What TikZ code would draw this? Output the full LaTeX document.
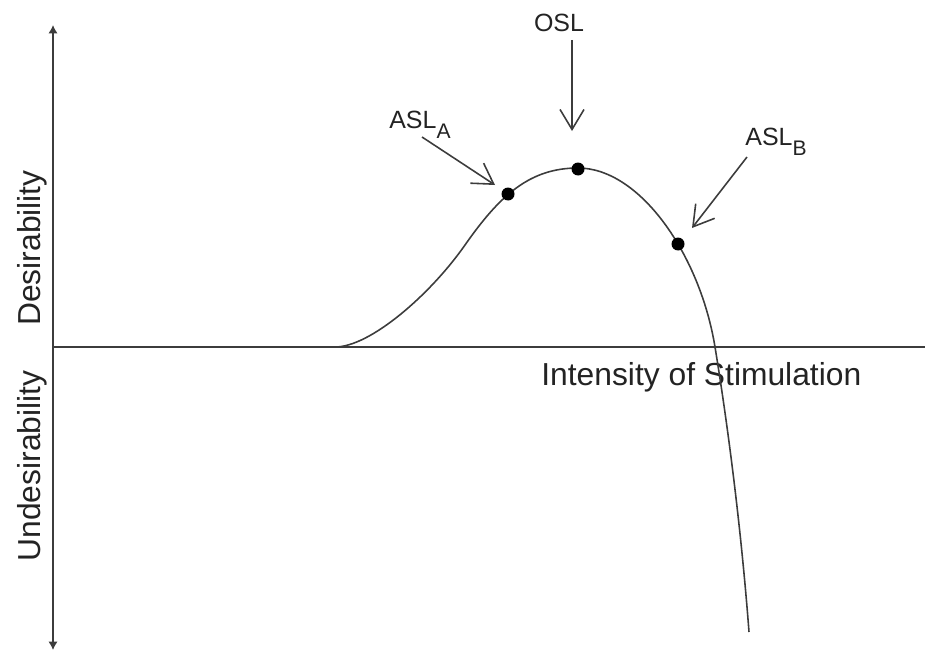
\documentclass[tikz,border=0pt]{standalone}
\usepackage{fontspec}
\setmainfont{Liberation Sans}
\usepackage{tikz}
\usetikzlibrary{arrows.meta, positioning}
\definecolor{encre}{RGB}{35,35,35}
\definecolor{grisfonce}{RGB}{60,60,60}
\newcommand{\lowsub}[1]{\raisebox{-6pt}{\fontsize{12}{14}\selectfont #1}}

\begin{document}
\begin{tikzpicture}[x=0.02cm, y=-0.02cm,
	trait/.style={draw=grisfonce, line width=0.9pt},
	axelabel/.style={text=encre, inner sep=0pt, font=\fontsize{18.1}{21}\selectfont},
	marque/.style={text=encre, inner sep=0pt, font=\fontsize{14.2}{17}\selectfont},
	point/.style={circle, fill=black, inner sep=0pt, minimum size=0.26cm},
	fleche/.style={trait, -{Straight Barb[length=0.4cm, width=0.48cm]}}]
				\useasboundingbox (0,0) rectangle (925,652);
				
				% axes
				\coordinate (haut) at (53,25);
				\coordinate (bas) at (53,650);
				\coordinate (gauche) at (53,347);
				\coordinate (droite) at (925,347);
				\draw[trait, {Latex[length=0.17cm, width=0.19cm]}-{Latex[length=0.17cm, width=0.19cm]}] (bas) -- (haut);
				\draw[trait] (gauche) -- (droite);
				
				\node[axelabel, rotate=90, anchor=base] (desir) at (40,248) {Desirability};
				\node[axelabel, rotate=90, anchor=base] (indesir) at (40,466) {Undesirability};
				\node[axelabel, anchor=base west] (intensite) at (541,385) {Intensity of Stimulation};
				
				% courbe
				\draw[trait] (335,347) .. controls (370,347) and (430,295) .. (465,245)
				.. controls (500,195) and (530,168) .. (578,168)
				.. controls (640,168) and (700,255) .. (715,347)
				.. controls (730,439) and (742,540) .. (749,632);
				
				\node[point] (ptA) at (508,194) {};
				\node[point] (ptO) at (578,169) {};
				\node[point] (ptB) at (678,244) {};
				
				% etiquettes
				\node[marque, anchor=base] (osl) at (559,32) {OSL};
				\node[marque, anchor=base west] (asla) at (389,128) {ASL\lowsub{A}};
				\node[marque, anchor=base west] (aslb) at (745,145) {ASL\lowsub{B}};
				
				\coordinate (oslqueue) at (572,40);
				\coordinate (oslpointe) at (572,131);
				\coordinate (aslaqueue) at (422,137);
				\coordinate (aslapointe) at (495,185);
				\coordinate (aslbqueue) at (747,157);
				\coordinate (aslbpointe) at (692,228);
				
				\draw[fleche] (oslqueue) -- (oslpointe);
				\draw[fleche] (aslaqueue) -- (aslapointe);
				\draw[fleche] (aslbqueue) -- (aslbpointe);
			\end{tikzpicture}
\end{document}
